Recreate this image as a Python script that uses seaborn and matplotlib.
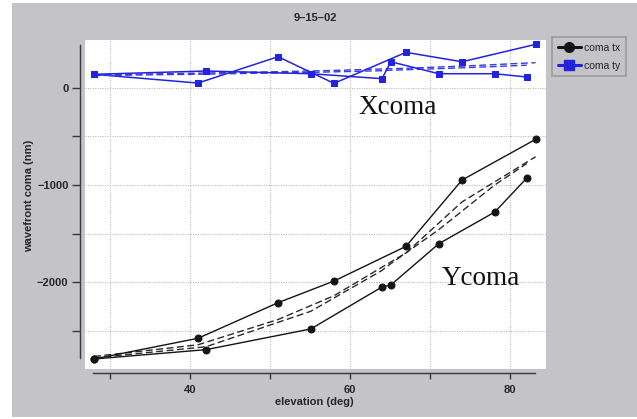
import matplotlib
matplotlib.use("Agg")
import matplotlib.pyplot as plt
from matplotlib.patches import Rectangle
from matplotlib.lines import Line2D
from matplotlib.ticker import MultipleLocator
import seaborn as sns
import pandas as pd

# ---- data ----
elev_a = [28.0, 41.0, 51.0, 58.0, 67.0, 74.0, 83.2]
elev_b = [28.0, 42.0, 55.1, 64.0, 65.1, 71.1, 78.1, 82.1]
tx_a = [-2791, -2578, -2212, -1989, -1632, -950, -531]
tx_b = [-2791, -2695, -2482, -2050, -2030, -1605, -1279, -929]
ty_a = [138, 48, 319, 45, 364, 267, 446]
ty_b = [138, 172, 144, 93, 267, 144, 144, 110]
tx_fit_a = [-2765, -2645, -2385, -2140, -1700, -1175, -710]
tx_fit_b = [-2780, -2665, -2300, -1880, -1810, -1460, -1000, -780]
ty_fit_a = [132, 150, 165, 178, 200, 222, 258]
ty_fit_b = [125, 140, 158, 175, 180, 196, 218, 232]

title = "9\u201315\u201302"
xlabel = "elevation (deg)"
ylabel = "wavefront coma (nm)"
legend_labels = ["coma tx", "coma ty"]
notes = [("Xcoma", 65.9, -200), ("Ycoma", 76.4, -1960)]

BG = "#c4c3c8"
BLACK = "#141414"
BLUE = "#2323dc"

sns.set_style("ticks")
plt.rcParams["font.family"] = ["Liberation Sans", "DejaVu Sans"]

fig = plt.figure(figsize=(6.37, 4.19), dpi=100, facecolor="white")
fig.patches.append(Rectangle((12 / 637, 2 / 419), 1 - 12 / 637, 1 - 5 / 419,
                             transform=fig.transFigure, facecolor=BG,
                             edgecolor="none", zorder=-10))
ax = fig.add_axes([85 / 637, 1 - 369 / 419, 461 / 637, 329 / 419])
ax.set_facecolor("white")

da = pd.DataFrame({"elev": elev_a, "tx": tx_a, "ty": ty_a,
                   "txf": tx_fit_a, "tyf": ty_fit_a})
db = pd.DataFrame({"elev": elev_b, "tx": tx_b, "ty": ty_b,
                   "txf": tx_fit_b, "tyf": ty_fit_b})

for d in (da, db):
    sns.lineplot(data=d, x="elev", y="txf", ax=ax, color="#2a2a2a", lw=1.0,
                 sort=False, estimator=None, linestyle=(0, (5, 2.5)))
    sns.lineplot(data=d, x="elev", y="tyf", ax=ax, color="#3a3ae0", lw=1.0,
                 sort=False, estimator=None, linestyle=(0, (5, 2.5)))
    sns.lineplot(data=d, x="elev", y="tx", ax=ax, color=BLACK, lw=1.0,
                 marker="o", markersize=5, markeredgecolor=BLACK,
                 sort=False, estimator=None)
    sns.lineplot(data=d, x="elev", y="ty", ax=ax, color=BLUE, lw=1.1,
                 marker="s", markersize=4.5, markeredgecolor=BLUE,
                 sort=False, estimator=None)

ax.set_xlim(26.875, 84.5)
ax.set_ylim(-2894, 491)
ax.xaxis.set_major_locator(MultipleLocator(20))
ax.xaxis.set_minor_locator(MultipleLocator(10))
ax.yaxis.set_major_locator(MultipleLocator(1000))
ax.yaxis.set_minor_locator(MultipleLocator(500))
ax.grid(True, which="both", color="#bcbcbc", linestyle=(0, (1, 1.2)), lw=0.8)
ax.set_axisbelow(True)

for s in ("top", "right"):
    ax.spines[s].set_visible(False)
ax.spines["left"].set_position(("outward", 3.6))
ax.spines["bottom"].set_position(("outward", 3.0))
ax.spines["left"].set_bounds(-2780, 440)
ax.spines["bottom"].set_bounds(27.9, 83.1)
for s in ("left", "bottom"):
    ax.spines[s].set_color("#3a3a3a")
    ax.spines[s].set_linewidth(1.0)

ax.tick_params(which="both", direction="out", color="#3a3a3a", width=1.0)
ax.tick_params(axis="y", which="both", length=5.8, pad=2.5)
ax.tick_params(axis="x", which="both", length=4.5, pad=4)
for lab in ax.get_xticklabels() + ax.get_yticklabels():
    lab.set_fontsize(8)
    lab.set_fontweight("bold")

ax.set_xlabel(xlabel, fontsize=8, fontweight="bold")
ax.set_ylabel(ylabel, fontsize=8, fontweight="bold")
ax.xaxis.set_label_coords(0.498, -0.085)
ax.yaxis.set_label_coords(-0.111, 0.526)

fig.text(315 / 637, 1 - 18 / 419, title, ha="center", va="center",
         fontsize=8, fontweight="bold")

for txt, xx, yy in notes:
    ax.text(xx, yy, txt, ha="center", va="center", fontsize=19.5,
            family="Liberation Serif", color="#111111")

handles = [Line2D([], [], color=BLACK, lw=2.2, marker="o", markersize=7),
           Line2D([], [], color=BLUE, lw=2.2, marker="s", markersize=7)]
leg = fig.legend(handles, legend_labels, loc="upper left",
                 bbox_to_anchor=(552 / 637, 1 - 37 / 419), frameon=True,
                 fontsize=7.5, handlelength=2.2, handletextpad=0.3,
                 borderpad=0.55, labelspacing=0.75, fancybox=False,
                 borderaxespad=0)
leg.get_frame().set_facecolor(BG)
leg.get_frame().set_edgecolor("#909090")
leg.get_frame().set_linewidth(1.2)

fig.savefig("out.png", dpi=100, facecolor=fig.get_facecolor())
